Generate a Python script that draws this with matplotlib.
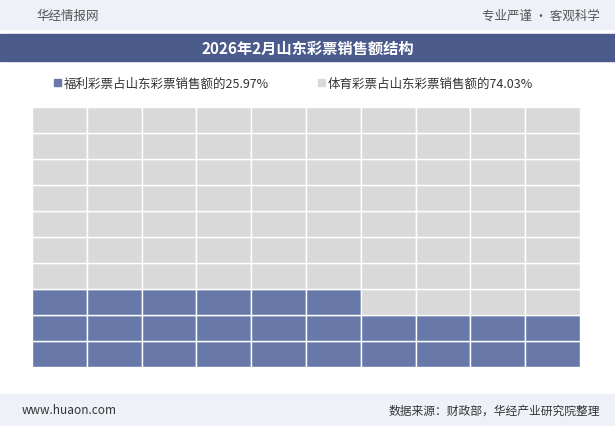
import matplotlib.pyplot as plt
from matplotlib.patches import Rectangle

plt.rcParams['font.family'] = ['Noto Sans CJK SC', 'DejaVu Sans']

title = '2026年2月山东彩票销售额结构'
labels = ['福利彩票占山东彩票销售额的25.97%', '体育彩票占山东彩票销售额的74.03%']
shares = [25.97, 74.03]
colors = ['#6878a8', '#d9d9d9']

n_rows, n_cols = 10, 10
n_blue = round(shares[0])

fig = plt.figure(figsize=(6.15, 4.27), dpi=100)
fig.patch.set_facecolor('white')

# header and footer bands
fig.add_artist(Rectangle((0, 1 - 30/427), 1, 30/427, transform=fig.transFigure, color='#eef1f7', zorder=0))
fig.add_artist(Rectangle((0, 1 - 62/427), 1, 27/427, transform=fig.transFigure, color='#4b5b8c', zorder=0))
fig.add_artist(Rectangle((0, 0), 1, 32/427, transform=fig.transFigure, color='#eef1f7', zorder=0))

fig.text(0.06, 1 - 16/427, '华经情报网', fontsize=9, color='#555555', va='center')
fig.text(0.975, 1 - 16/427, '专业严谨 • 客观科学', fontsize=9, color='#555555', va='center', ha='right')
fig.text(0.5, 1 - 49/427, title, fontsize=11, color='white', weight='bold', va='center', ha='center')
fig.text(0.035, 16/427, 'www.huaon.com', fontsize=8.5, color='#333333', va='center')
fig.text(0.975, 16/427, '数据来源：财政部，华经产业研究院整理', fontsize=8.5, color='#333333', va='center', ha='right')

# legend
fig.add_artist(Rectangle((54/615, 1 - 87/427), 7/615, 7/427, transform=fig.transFigure, color=colors[0]))
fig.text(64/615, 1 - 84/427, labels[0], fontsize=9, color='#333333', va='center')
fig.add_artist(Rectangle((318/615, 1 - 87/427), 7/615, 7/427, transform=fig.transFigure, color=colors[1]))
fig.text(328/615, 1 - 84/427, labels[1], fontsize=9, color='#333333', va='center')

ax = fig.add_axes([32/615, 59/427, 548/615, 260/427])
for i in range(n_rows * n_cols):
    r, c = divmod(i, n_cols)
    col = colors[0] if i < n_blue else colors[1]
    ax.add_patch(Rectangle((c, r), 1, 1, facecolor=col, edgecolor='white', linewidth=1))
ax.set_xlim(0, n_cols)
ax.set_ylim(0, n_rows)
ax.axis('off')

fig.savefig('out.png', dpi=100)
